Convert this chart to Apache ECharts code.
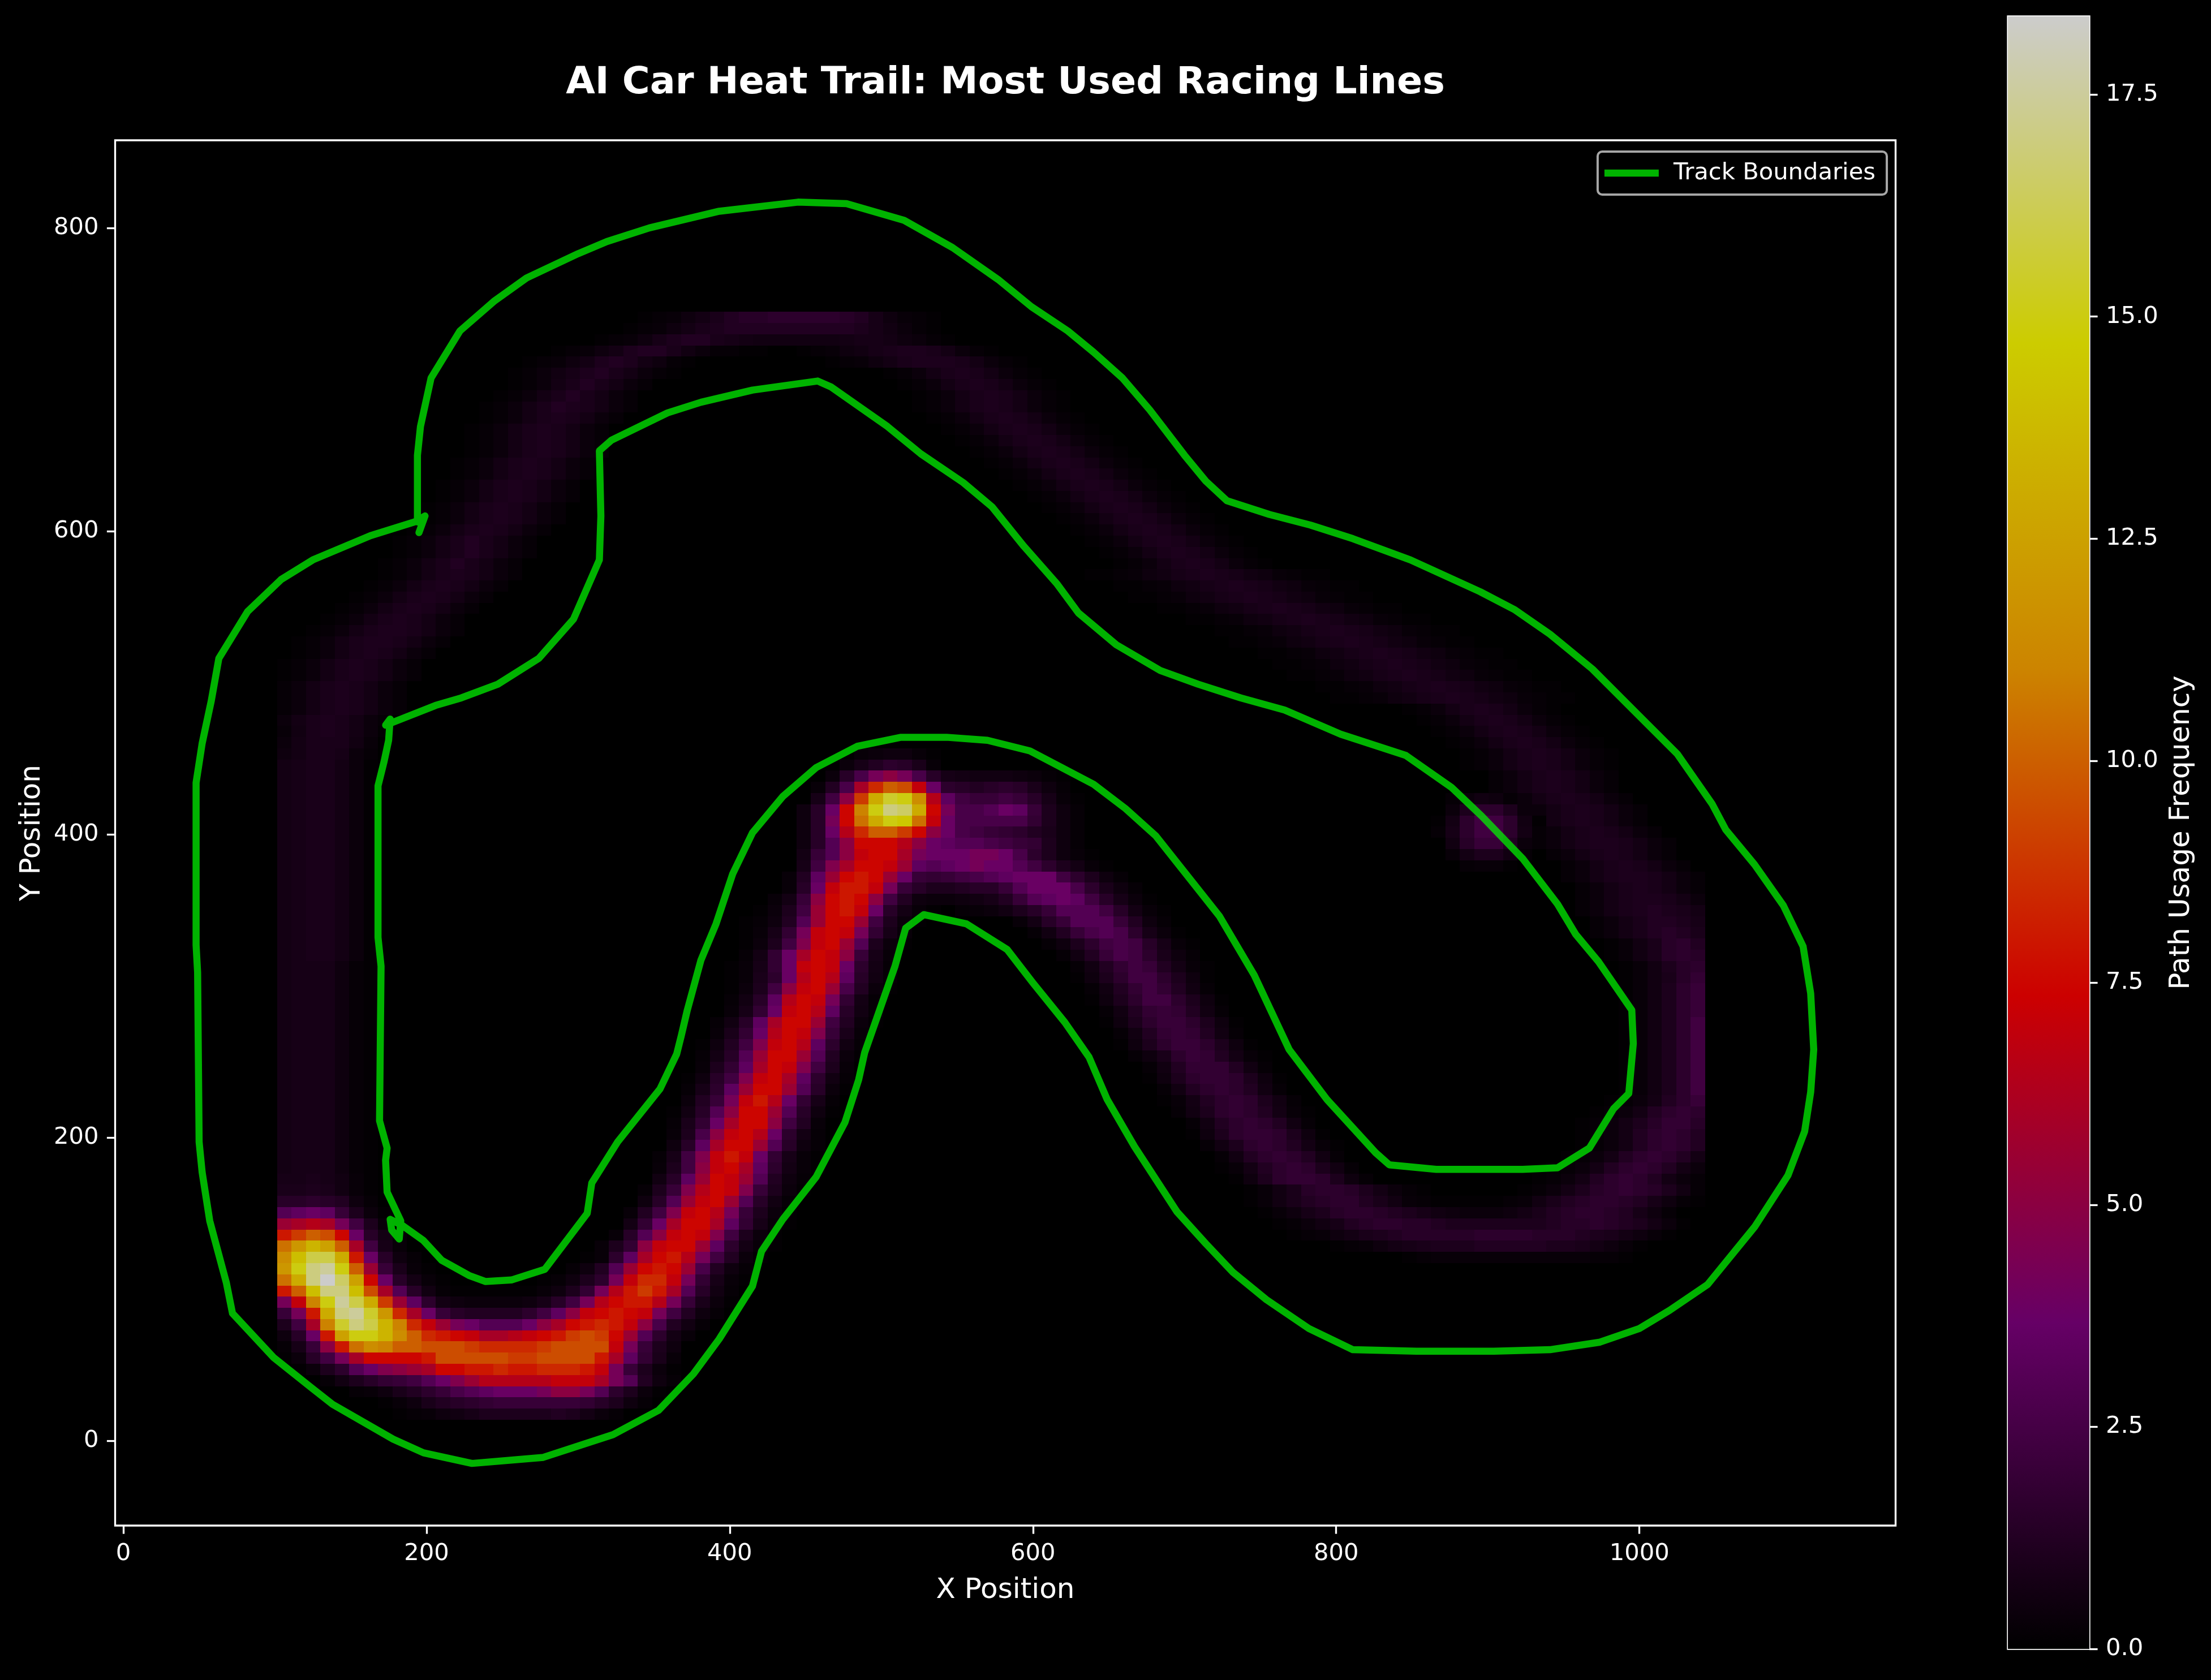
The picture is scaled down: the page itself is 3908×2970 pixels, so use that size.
<!DOCTYPE html>
<html>
<head>
<meta charset="utf-8">
<title>AI Car Heat Trail</title>
<script src="https://cdn.jsdelivr.net/npm/echarts@6/dist/echarts.min.js"></script>
<style>
  html, body { margin: 0; padding: 0; background: #000; }
  #chart { width: 3908px; height: 2970px; }
</style>
</head>
<body>
<div id="chart"></div>
<script>
// tick labels
var xTicks = [0, 200, 400, 600, 800, 1000];
var yTicks = [0, 200, 400, 600, 800];
var barTicks = [0, 2.5, 5, 7.5, 10, 12.5, 15, 17.5];
var barMax = 18.38;

// colour ramp of the trail
var rampColors = ['#000000', '#660066', '#cc0000', '#cc8400', '#cccc00', '#cccccc'];

// track outlines, x/y in track units
var outerTrack = [[194,606],[194,650],[196,669],[203,701],[222,732],[245,752],[266,767],[300,783],[319,791],[347,800],[393,811],[445,817],[477,816],[515,805],[547,787],[577,766],[599,748],[623,732],[640,718],[659,701],[677,680],[700,650],[714,633],[728,620],[756,611],[783,604],[811,595],[849,581],[895,560],[918,548],[941,532],[969,509],[997,481],[1025,453],[1048,420],[1057,403],[1076,380],[1095,353],[1108,326],[1113,295],[1115,258],[1113,230],[1109,204],[1098,175],[1076,141],[1045,103],[1020,86],[1000,74],[974,65],[941,60],[904,59],[853,59],[811,60],[782,74],[754,93],[732,111],[714,130],[695,151],[667,194],[649,225],[637,253],[621,276],[600,302],[583,324],[556,341],[528,347],[516,338],[509,313],[489,256],[485,238],[476,210],[457,174],[435,146],[421,125],[415,102],[393,67],[376,44],[353,20],[323,4],[277,-11],[230,-15],[198,-8],[178,1],[138,24],[124,35],[99,55],[72,84],[68,104],[57,145],[52,177],[50,197],[49,309],[48,327],[48,434],[52,460],[58,488],[63,516],[82,547],[104,568],[125,581],[163,597],[192,606],[199,610],[195,599]];
var innerTrack = [[176,476],[173,472],[206,485],[223,490],[247,499],[274,516],[297,542],[314,581],[315,610],[314,653],[322,660],[359,678],[381,685],[415,693],[458,699],[467,695],[504,669],[526,651],[554,632],[573,616],[594,590],[616,565],[630,546],[655,525],[684,508],[709,499],[737,490],[766,482],[803,466],[846,452],[876,431],[896,412],[923,384],[946,354],[958,334],[973,316],[995,284],[996,262],[993,229],[983,219],[967,193],[946,180],[923,179],[906,179],[890,179],[866,179],[835,182],[826,190],[794,225],[769,258],[746,307],[723,346],[681,399],[661,417],[640,433],[598,455],[570,462],[543,464],[513,464],[484,458],[457,444],[435,425],[415,401],[402,374],[391,341],[381,317],[372,284],[368,267],[365,255],[354,232],[326,197],[309,170],[306,150],[278,113],[256,106],[239,105],[228,109],[210,119],[198,132],[184,142],[176,146],[177,139],[182,133],[183,145],[174,164],[173,185],[174,193],[169,211],[170,313],[168,332],[168,432],[172,448],[175,462],[176,476]];

// trail frequency: one entry per grid row, bottom row first.
// "col:chars" = run of cells from that column, each char an index into heatLevels.
var levelChars = '0123456789abcdefghijklmnopqrstuvwxyzABCDEFGHIJKLMNO';
var heatLevels = [0,0.1,0.2,0.3,0.4,0.5,0.6,0.7,0.8,0.9,1,1.2,1.4,1.6,1.8,2,2.3,2.6,3,3.4,3.8,4.2,4.6,5,5.5,6,6.5,7,7.5,8,8.5,9,9.5,10,10.5,11,11.5,12,12.5,13,13.5,14,14.5,15,15.5,16,16.5,17,17.5,18,18.36];
var heatRows = [
  '8:123568aaaaaba742',
  '7:1359bcdeffffffeca52',
  '5:2359bdfhijkkklnnlida41',
  '3:26acefgikmoqqqqqrrrplib52',
  '1:14adikmnopssttuttuuutrlfa41',
  '0:14cglpsssstwwwwwvvwwwwtpje93',
  '0:28fntyAzxxwwwvuuuuvwwwwrlfa5',
  '0:5cktCHHEAxutsrppqrstvwvsoid73',
  '0:agpzILJEzurolkiiiknpstutrnhb62',
  '0:fltDLMIBupkfcbbbbdgjnrstsrlgb52',
  '0:lrzHMJDvojd75444458cglqsttqlf941',
  '0:txFLLFwpic6211111135aelqtvtpic62',
  '0:yDLOKCskc731 18:125adlruurle831',
  '0:BHLMHxof931 20:25biostsohb52',
  '0:AFJJDtkc52 21:13djpstqlgb41 78:1233333333333221',
  '0:yBECxpg83 22:3aenrssojd731 73:1235789aaabbbbbaa97531',
  '0:tvxwskc72 23:3cinrsrmga41 70:123579abcccccddddcccba97531',
  '0:opqplga3 24:7ekpsspje831 69:12468bcddccbaaaaaaabccdcba741',
  '0:ijkjfa41 24:3bgmrsqlfa41 68:1358acddcba865444579bcddcb852',
  '0:ccdcb52 25:5ciorsoic62 67:1369bcddb9632111112369bcddcb8521',
  '0:99a9631 25:2afmqsrmfa41 67:1369cddca7421 86:1247acdedca62',
  '0:8898631 26:6cjosroib52 66:15adeeda52 87:1247bdedb742',
  '0:7888521 26:3agnrspjd731 65:137bdeda62 88:1247bdedb74',
  '0:7888521 26:28gmrtrke831 65:26bdedb62 89:1247bdedb7',
  '0:7888521 27:5cjpssoic52 64:26adedb731 90:1247bdedb',
  '0:7888521 27:3ahnrsqkd72 63:15adeeda51 90:1247bdedb',
  '0:7888521 27:29ekpssngb3 63:26bdedb62 90:1247aceec',
  '0:7888521 27:16cinssoic51 62:26adedb731 91:1247bded',
  '0:7888521 28:4bflrtqke82 61:137bdeda62 92:1247bdf',
  '0:7888521 28:28djossoic41 61:26bdedb62 93:136adg',
  '0:7888521 28:15cgmrspjd62 60:15adeeda51 93:136adg',
  '0:7888521 29:3aejpsrmga3 60:26beeeb62 93:136adg',
  '0:7888521 29:27ciossoib41 59:259dfeb731 93:136adg',
  '0:7888521 29:15bgmrsqjd62 58:15adffda51 93:136adg',
  '0:7888521 30:39ekqsrmf93 58:26befeb62 93:136adg',
  '0:7888521 30:26cjpssogb41 57:15adffda51 93:136adg',
  '0:7888521 31:38ekrsqjc62 57:26befeb62 93:136adf',
  '0:7888521 31:26cjqsrle72 56:15adggda51 93:136adf',
  '0:7888521 31:14agnrsohb41 56:26begeb62 93:136adf',
  '0:7888521 31:139dkqsqjc62 55:15adggda51 93:1369ce',
  '0:7888521 31:138ekrsrkd72 55:26begfb731 93:136acd',
  '0:7899741 32:27ekpsrnf83 54:26bfhgd952 92:1369cdc',
  '0:7899741 32:14agmrsoia41 53:25adghgc831 92:1369cdb',
  '0:7899741 32:138elrsrle83 52:26bfhihd841 91:2479bcb9',
  '0:7899741 32:125biossoga41 51:37cfiiifb52 91:2479bba8',
  '0:7899741 33:14agostrkc731 47:2346acfiiigc731 90:2479aba97',
  '0:7899741 34:37fnstsngb544568bfijkjgc841 90:2479aa974',
  '0:7899741 35:3ckrttrlfcaabccfikkkhd952 90:2479a9742',
  '0:7899741 35:3bjostsokfefghijkkkgda52 89:2479aa9742',
  '0:7899741 36:8gmpssrojijklkkigda731 82:2331 89:2479a9742',
  '0:7899741 36:7finrssplkkkllkhda531 81:37aa62 88:2479a9742',
  '0:7899741 36:5cinsssqnkjiihgfea52 81:6cffb4 87:2479aa9742',
  '0:7899741 36:5ckquxxvsnkhgfedb952 80:28dggd7 87:2479a9742',
  '0:7899741 36:5clsyDHGyrkhhhhhea52 80:17dggd61 88:79a9742',
  '0:7899741 36:5ckszHLKDslhhikjfa52 81:4adda4 87:479a9742',
  '0:7899741 37:8gnvDIHAqjgffgfc831 81:2465 85:2479a9742',
  '0:7899741 37:3bhpuxwrkdcbcdc952 84:2479a9742',
  '0:7899741 38:4chlnlhc876665421 84:2479a9742',
  '0:7899741 39:48bdc93 82:12479a97421',
  '0:5799842 40:345531 82:12479a97421',
  '0:4799963 81:12479a97421',
  '0:369a9741 80:12479a97421',
  '0:479a9742 79:12479a97421',
  '0:2479a9742 78:12479a97421',
  '0:2479a9742 73:11235689a98653211',
  '0:2479a9742 72:11235689a98653211',
  '0:12479a9742 70:11235689a98653211',
  '0:12479a9742 69:11235689a98653211',
  '1:12479a9742 68:11235689a98653211',
  '1:12479aa9742 66:11235689a98653211',
  '2:12479aa9742 65:11235689a98653211',
  '3:12479a9742 63:11235689a98653211',
  '4:12479a9742 61:11235689a98653211',
  '5:12479a9742 59:11235689a98653211',
  '6:12479a9742 58:11235689a98653211',
  '7:12479a9742 56:11235689a98653211',
  '7:12479b9742 58:12479a97421',
  '8:12479b9742 57:12479a97421',
  '8:12479b9742 56:12479a97421',
  '9:12479a9742 55:12479a97421',
  '10:12479a9742 54:12479a97421',
  '10:12479a9742 53:12479a97421',
  '11:12479a9742 52:12479a97421',
  '11:12479a9742 51:12479a97421',
  '12:12479a9742 50:12479a97421',
  '12:12479a9742 49:12479a97421',
  '13:12479a9742 48:12479a97421',
  '13:12479a9742 47:12479a97421',
  '13:12479a9742 46:12479a97421',
  '14:12479a9742 45:12479a97421',
  '14:12479ba9742 44:12479a97421',
  '15:12479b9742 44:12479a97421',
  '16:12479b9742 43:12479a97421',
  '16:12468ab97421 42:12479a97421',
  '17:12357aba7521 38:123579aaa97421',
  '19:12357abb9642211 36:1235689aa97421',
  '22:12358abb98766666678875421',
  '24:123579abbbbbbbbba86421',
  '25:123579bccdddddcb85321'
];

// grid of the histogram in track units
var heatX0 = 101.5, heatY0 = 13.8, heatCellW = 9.513, heatCellH = 7.382;

var heatData = [];
heatRows.forEach(function (row, j) {
    row.split(' ').forEach(function (run) {
        var parts = run.split(':');
        var start = parseInt(parts[0], 10);
        for (var k = 0; k < parts[1].length; k++) {
            var v = heatLevels[levelChars.indexOf(parts[1][k])];
            if (v > 0) {
                heatData.push([heatX0 + (start + k) * heatCellW, heatY0 + j * heatCellH, v]);
            }
        }
    });
});

var fontName = 'DejaVu Sans';
var tickFont = 41.67;
var nameFont = 50;
var white = '#ffffff';
var lineGreen = 'rgba(0,255,0,0.7)';

function renderCell(params, api) {
    var x = api.value(0), y = api.value(1);
    var a = api.coord([x, y]);
    var b = api.coord([x + heatCellW, y + heatCellH]);
    var l = Math.round(a[0]), r = Math.round(b[0]), t = Math.round(b[1]), d = Math.round(a[1]);
    return {
        type: 'rect',
        shape: { x: l, y: t, width: r - l, height: d - t },
        style: { fill: api.visual('color') }
    };
}

function renderBar(params, api) {
    var a = api.coord([0, 0]);
    var b = api.coord([1, barMax]);
    return {
        type: 'rect',
        shape: { x: a[0], y: b[1], width: b[0] - a[0], height: a[1] - b[1] },
        style: {
            fill: new echarts.graphic.LinearGradient(0, 1, 0, 0, rampColors.map(function (c, i) {
                return { offset: i / (rampColors.length - 1), color: c };
            }))
        }
    };
}

function trackSeries(data) {
    return {
        name: 'Track Boundaries',
        type: 'line',
        xAxisIndex: 0,
        yAxisIndex: 0,
        data: data,
        showSymbol: false,
        silent: true,
        z: 5,
        lineStyle: { color: lineGreen, width: 12.5, cap: 'round', join: 'round' },
        itemStyle: { color: lineGreen }
    };
}

function valueAxisStyle(ticks, fmt) {
    return {
        axisLine: { show: false, onZero: false },
        splitLine: { show: false },
        axisTick: { show: true, customValues: ticks, length: 14.6, lineStyle: { color: white, width: 3.33 } },
        axisLabel: {
            show: true,
            customValues: ticks,
            color: white,
            fontFamily: fontName,
            fontSize: tickFont,
            margin: 29,
            formatter: fmt
        }
    };
}

var myChart = echarts.init(document.getElementById('chart'), null, { renderer: 'canvas', devicePixelRatio: 1 });
var option = {
    backgroundColor: '#000000',
    animation: false,
    title: {
        text: 'AI Car Heat Trail: Most Used Racing Lines',
        left: 1772,
        top: 109,
        textAlign: 'center',
        textStyle: { color: white, fontFamily: fontName, fontSize: 66.67, fontWeight: 'bold' }
    },
    legend: {
        data: ['Track Boundaries'],
        right: 573,
        top: 268,
        padding: [17, 20, 17, 12],
        icon: 'rect',
        itemWidth: 96,
        itemHeight: 12.5,
        backgroundColor: '#000000',
        borderColor: '#a6a6a6',
        borderWidth: 4,
        borderRadius: 8,
        selectedMode: false,
        textStyle: { color: white, fontFamily: fontName, fontSize: tickFont, padding: [0, 0, 0, 21] }
    },
    visualMap: {
        show: false,
        type: 'continuous',
        seriesIndex: 0,
        dimension: 2,
        min: 0,
        max: barMax,
        inRange: { color: rampColors }
    },
    grid: [
        { left: 203.5, top: 248, width: 3147, height: 2449, show: true, borderColor: white, borderWidth: 3.33, backgroundColor: 'transparent' },
        { left: 3549, top: 29, width: 144, height: 2886, show: true, borderColor: white, borderWidth: 3.33, backgroundColor: 'transparent' }
    ],
    xAxis: [
        Object.assign({
            type: 'value', gridIndex: 0, min: -5.4, max: 1169,
            name: 'X Position', nameLocation: 'middle', nameGap: 90, nameMoveOverlap: false,
            nameTextStyle: { color: white, fontFamily: fontName, fontSize: nameFont }
        }, valueAxisStyle(xTicks, function (v) { return String(v); })),
        { type: 'value', gridIndex: 1, min: 0, max: 1, show: false }
    ],
    yAxis: [
        Object.assign({
            type: 'value', gridIndex: 0, min: -56, max: 857.8,
            name: 'Y Position', nameLocation: 'middle', nameGap: 121, nameMoveOverlap: false,
            nameTextStyle: { color: white, fontFamily: fontName, fontSize: nameFont }
        }, valueAxisStyle(yTicks, function (v) { return String(v); })),
        Object.assign({
            type: 'value', gridIndex: 1, min: 0, max: barMax, position: 'right',
            name: 'Path Usage Frequency', nameLocation: 'middle', nameGap: 138, nameRotate: 90, nameMoveOverlap: false,
            nameTextStyle: { color: white, fontFamily: fontName, fontSize: nameFont }
        }, valueAxisStyle(barTicks, function (v) { return v.toFixed(1); }))
    ],
    series: [
        {
            type: 'custom',
            xAxisIndex: 0,
            yAxisIndex: 0,
            data: heatData,
            encode: { x: 0, y: 1 },
            renderItem: renderCell,
            clip: true,
            silent: true,
            progressive: 0,
            z: 2
        },
        trackSeries(outerTrack),
        trackSeries(innerTrack),
        {
            type: 'custom',
            xAxisIndex: 1,
            yAxisIndex: 1,
            data: [[0, barMax]],
            encode: { x: 0, y: 1 },
            renderItem: renderBar,
            silent: true,
            z: 1
        }
    ]
};

myChart.setOption(option);
window.onresize = myChart.resize;
</script>
</body>
</html>
